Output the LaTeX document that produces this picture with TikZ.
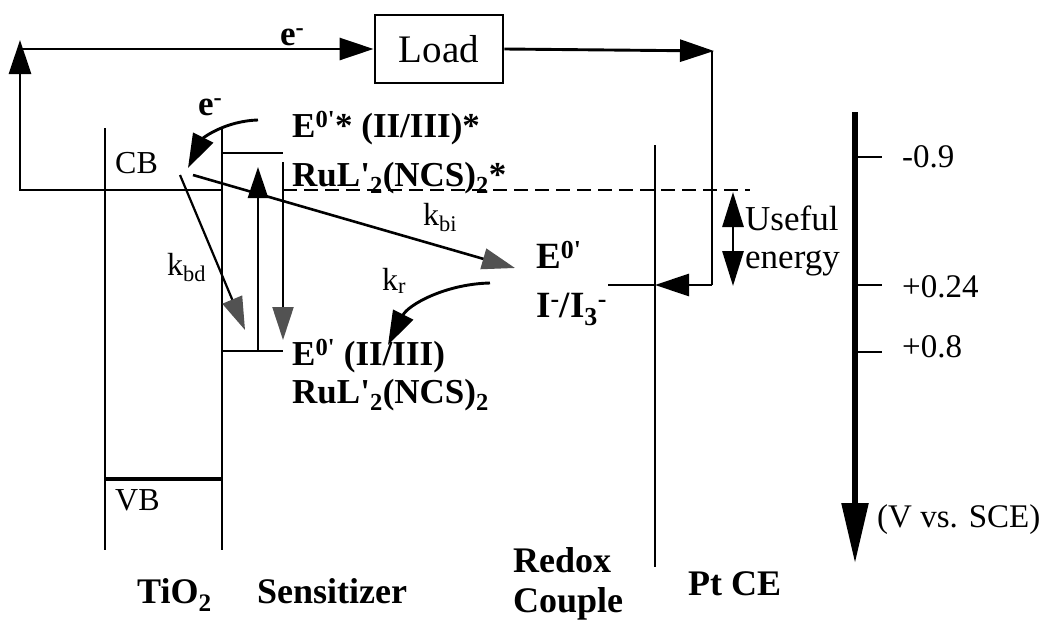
\documentclass[tikz,border=0pt]{standalone}
\usepackage{fontspec}
\setmainfont{Liberation Serif}
\usetikzlibrary{arrows.meta}
\begin{document}
\begin{tikzpicture}[x=1pt,y=-1pt,
  lvl/.style={line width=2.9pt},
  thinln/.style={line width=2.2pt},
  blk/.style={-{Triangle[length=34pt,width=22pt]}},
  gry/.style={-{Triangle[length=33pt,width=21pt,color=black!68]}},
  lbl/.style={anchor=base west, inner sep=0pt, font=\fontsize{32}{36}\selectfont},
  blbl/.style={anchor=base west, inner sep=0pt, font=\fontsize{35}{38}\selectfont\bfseries},
  bot/.style={anchor=base west, inner sep=0pt, font=\fontsize{36}{38}\selectfont\bfseries},
]
\useasboundingbox (0,0) rectangle (1044,624);

% ---- external circuit ----
\node[draw, lvl, minimum width=128pt, minimum height=68pt, inner sep=0pt,
      font=\fontsize{39}{40}\selectfont] (load) at (439,49) {Load};
\coordinate (cbl) at (105,190);
\coordinate (lb) at (20,190);
\coordinate (lt) at (20,40);
\coordinate (ts) at (20,49);
\coordinate (rt) at (714,51);
\coordinate (rtv) at (712,51);
\coordinate (rb) at (712,285);
\coordinate (pt) at (655,285);
\coordinate (rl) at (608,285);
\draw[lvl,blk] (cbl) -- (lb) -- (lt);
\draw[lvl,blk] (ts) -- (load.west);
\draw[lvl,blk] (load.east) -- (rt);
\draw[lvl] (rtv) -- (rb);
\draw[lvl,blk] (rb) -- (pt);
\draw[lvl] (rl) -- (pt);

% ---- TiO2 ----
\coordinate (tl1) at (105,128); \coordinate (tl2) at (105,550);
\coordinate (tr1) at (222,128); \coordinate (tr2) at (222,550);
\coordinate (cbr) at (222,190);
\coordinate (vbl) at (105,479); \coordinate (vbr) at (222,479);
\draw[lvl] (tl1) -- (tl2);
\draw[lvl] (tr1) -- (tr2);
\draw[lvl] (cbl) -- (cbr);
\draw[line width=3.6pt] (vbl) -- (vbr);

% ---- sensitizer levels ----
\coordinate (ex1) at (222,153); \coordinate (ex2) at (283,153);
\coordinate (gd1) at (222,351); \coordinate (gd2) at (283,351);
\draw[lvl] (ex1) -- (ex2);
\draw[lvl] (gd1) -- (gd2);
\coordinate (up1) at (258,351); \coordinate (up2) at (258,167);
\draw[lvl,-{Triangle[length=31pt,width=20pt]}] (up1) -- (up2);
\coordinate (dn1) at (283,162); \coordinate (dn2) at (283,340);
\draw[thinln,gry] (dn1) -- (dn2);

% ---- dashed level ----
\coordinate (ds1) at (283,190); \coordinate (ds2) at (750,190);
\draw[line width=2.6pt, dash pattern=on 14pt off 7pt] (ds1) -- (ds2);

% ---- useful energy ----
\coordinate (ue1) at (733,192); \coordinate (ue2) at (733,286);
\draw[lvl,{Triangle[length=35pt,width=21pt]}-{Triangle[length=35pt,width=21pt]}] (ue1) -- (ue2);

% ---- Pt CE ----
\coordinate (pc1) at (655,145); \coordinate (pc2) at (655,567);
\draw[lvl] (pc1) -- (pc2);

% ---- transfer arrows ----
\coordinate (kd1) at (180,175); \coordinate (kd2) at (245,330);
\draw[thinln,gry] (kd1) -- (kd2);
\coordinate (ki1) at (193,175); \coordinate (ki2) at (515,268);
\draw[line width=2.6pt,gry] (ki1) -- (ki2);
\coordinate (inj1) at (258,120); \coordinate (inj2) at (188,168);
\draw[lvl,blk] (inj1) .. controls (225,121) and (203,138) .. (inj2);
\coordinate (kr1) at (490,283); \coordinate (kr2) at (388,345);
\draw[lvl,blk] (kr1) .. controls (445,284) and (408,305) .. (kr2);

% ---- potential axis ----
\coordinate (ax1) at (855,112); \coordinate (ax2) at (855,563);
\draw[line width=5.5pt,-{Triangle[length=60pt,width=26pt]}] (ax1) -- (ax2);
\coordinate (t1a) at (855,157); \coordinate (t1b) at (882,157);
\coordinate (t2a) at (855,285); \coordinate (t2b) at (882,285);
\coordinate (t3a) at (855,352); \coordinate (t3b) at (882,352);
\draw[lvl] (t1a) -- (t1b);
\draw[lvl] (t2a) -- (t2b);
\draw[lvl] (t3a) -- (t3b);

% ---- labels ----
\node[blbl] (e1) at (280,45) {e\textsuperscript{-}};
\node[blbl] (e2) at (198,115) {e\textsuperscript{-}};
\node[lbl] (cb) at (115,173) {CB};
\node[lbl] (vb) at (115,510) {VB};
\node[blbl] (exc1) at (292,137) {E\textsuperscript{0\textquotesingle}* (II/III)*};
\node[blbl] (exc2) at (292,186) {RuL\textquotesingle\textsubscript{2}(NCS)\textsubscript{2}*};
\node[blbl] (gnd1) at (292,365) {E\textsuperscript{0\textquotesingle} (II/III)};
\node[blbl] (gnd2) at (292,403) {RuL\textquotesingle\textsubscript{2}(NCS)\textsubscript{2}};
\node[blbl,font=\fontsize{37}{40}\selectfont\bfseries] (red1) at (536,268) {E\textsuperscript{0\textquotesingle}};
\node[blbl,font=\fontsize{37}{40}\selectfont\bfseries] (red2) at (536,317) {I\textsuperscript{-}/I\textsubscript{3}\textsuperscript{-}};
\node[lbl] (kbd) at (167,275) {k\textsubscript{bd}};
\node[lbl] (kbi) at (423,225) {k\textsubscript{bi}};
\node[lbl] (kr) at (382,290) {k\textsubscript{r}};
\node[lbl,font=\fontsize{35}{38}\selectfont] (use1) at (745,230) {Useful};
\node[lbl,font=\fontsize{35}{38}\selectfont] (use2) at (745,268) {energy};
\node[lbl,font=\fontsize{33}{36}\selectfont] (v1) at (902,167) {-0.9};
\node[lbl,font=\fontsize{33}{36}\selectfont] (v2) at (902,297) {+0.24};
\node[lbl,font=\fontsize{33}{36}\selectfont] (v3) at (902,357) {+0.8};
\node[lbl,font=\fontsize{33}{36}\selectfont] (vs) at (877,527) {(V vs. SCE)};
\node[bot] (tio2) at (137,603) {TiO\textsubscript{2}};
\node[bot] (sens) at (257,603) {Sensitizer};
\node[bot] (redox) at (513,572) {Redox};
\node[bot] (couple) at (513,612) {Couple};
\node[bot] (ptce) at (688,595) {Pt CE};
\end{tikzpicture}
\end{document}
